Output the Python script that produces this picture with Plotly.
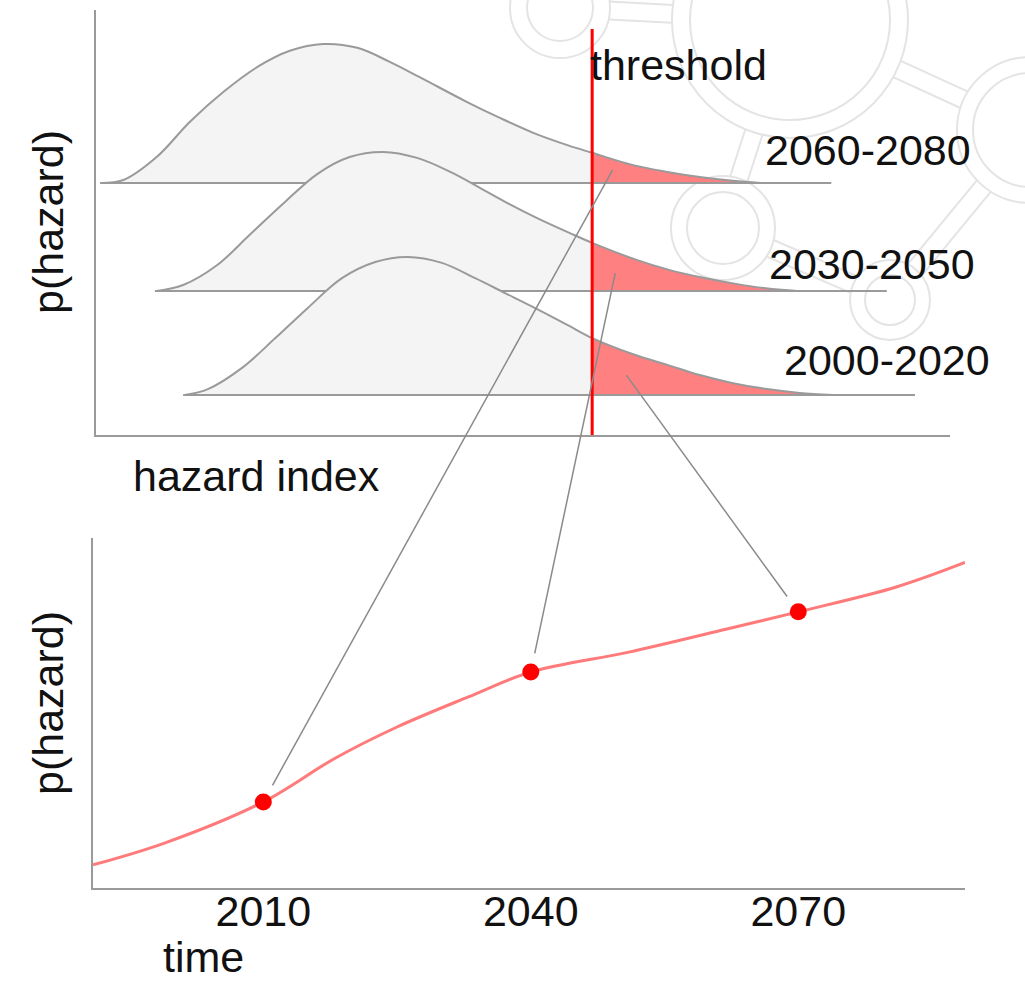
import math
import plotly.graph_objects as go

# ---------------- data ----------------
ridge_labels = ["2060-2080", "2030-2050", "2000-2020"]
ridge_offsets = [5.93, 3.39, 0.94]
ridge_x = [
    [0.05, 0.32, 0.71, 1.10, 1.49, 1.89, 2.27, 2.66, 3.06, 3.44, 3.79, 4.34,
     4.73, 5.12, 5.52, 5.81, 6.29, 6.69, 7.07, 7.46, 7.78],
    [0.71, 1.02, 1.42, 1.80, 2.19, 2.59, 2.97, 3.36, 3.76, 4.15, 4.50, 4.77, 5.16,
     5.55, 5.81, 6.33, 6.72, 7.11, 7.51, 7.89, 8.21],
    [1.04, 1.31, 1.71, 2.10, 2.48, 2.88, 3.27, 3.65, 4.05, 4.44, 4.79, 5.12, 5.52,
     5.81, 6.29, 6.69, 7.07, 7.46, 7.86, 8.24, 8.63],
]
ridge_h = [
    [0, 0.07, 0.61, 1.44, 2.14, 2.73, 3.11, 3.27, 3.18, 2.85, 2.49, 1.91,
     1.53, 1.18, 0.89, 0.71, 0.42, 0.26, 0.14, 0.05, 0],
    [0, 0.14, 0.61, 1.32, 2.05, 2.75, 3.15, 3.27, 3.13, 2.80, 2.42, 2.12, 1.72,
     1.36, 1.13, 0.73, 0.49, 0.31, 0.16, 0.05, 0],
    [0, 0.14, 0.64, 1.34, 2.05, 2.75, 3.13, 3.25, 3.11, 2.75, 2.40, 2.07, 1.65,
     1.34, 0.96, 0.71, 0.47, 0.28, 0.14, 0.05, 0],
]
baseline_start = [0.05, 0.69, 1.02]
baseline_end = [8.61, 9.26, 9.59]
threshold = 5.81
threshold_top = 9.55
label_x = [10.27, 10.32, 10.49]
label_dy = [0.78, 0.63, 0.82]

tail_anchor_x = [6.05, 6.08, 6.21]
tail_anchor_h = [0.31, 0.42, 0.47]
linked_year = [2010, 2040, 2070]

years_curve = [1990.9, 1999, 2010, 2018, 2025, 2033, 2040, 2051, 2062, 2070, 2081, 2088.7]
p_curve = [0.066, 0.129, 0.246, 0.37, 0.46, 0.546, 0.617, 0.674, 0.74, 0.789, 0.86, 0.93]
dot_years = [2010, 2040, 2070]
dot_p = [0.246, 0.617, 0.789]
time_ticks = [2010, 2040, 2070]
time_ticktext = ["2010", "2040", "2070"]

# ---------------- styling / layout ----------------
W, H = 1025, 983
FONT = "Liberation Sans, Arial, Helvetica, sans-serif"
FS = 43
GREY = "#9a9a9a"
FILL = "#f4f4f4"
TAIL = "#ff8080"
RED = "#ff0000"
TXT = "#111111"

X1_DOM = [96 / W, 950 / W]
Y1_DOM = [(H - 435) / H, (H - 10) / H]
X1_RANGE = [0, 10]
Y1_RANGE = [0, 10]
X2_DOM = [93 / W, 965 / W]
Y2_DOM = [(H - 888) / H, (H - 538) / H]
X2_RANGE = [1990.9, 2088.7]
Y2_RANGE = [0, 1]


def to_px(x, y, xdom, xr, ydom, yr):
    fx = xdom[0] + (x - xr[0]) / (xr[1] - xr[0]) * (xdom[1] - xdom[0])
    fy = ydom[0] + (y - yr[0]) / (yr[1] - yr[0]) * (ydom[1] - ydom[0])
    return fx * W, (1 - fy) * H


fig = go.Figure()

# ridges (back to front)
for i in range(3):
    off = ridge_offsets[i]
    xs = ridge_x[i]
    ys = [off + h for h in ridge_h[i]]
    fig.add_trace(go.Scatter(x=[xs[0], xs[-1]], y=[off, off], mode="lines",
                             line=dict(width=0, color="rgba(0,0,0,0)"),
                             hoverinfo="skip", xaxis="x", yaxis="y"))
    fig.add_trace(go.Scatter(x=xs, y=ys, mode="lines", fill="tonexty",
                             fillcolor=FILL, line=dict(width=0, color=FILL, shape="spline"),
                             hoverinfo="skip", xaxis="x", yaxis="y"))
    tx = [x for x in xs if x >= threshold]
    ty = [y for x, y in zip(xs, ys) if x >= threshold]
    fig.add_trace(go.Scatter(x=[tx[0], tx[-1]], y=[off, off], mode="lines",
                             line=dict(width=0, color="rgba(0,0,0,0)"),
                             hoverinfo="skip", xaxis="x", yaxis="y"))
    fig.add_trace(go.Scatter(x=tx, y=ty, mode="lines", fill="tonexty",
                             fillcolor=TAIL, line=dict(width=0, color=TAIL, shape="spline"),
                             hoverinfo="skip", xaxis="x", yaxis="y"))
    fig.add_trace(go.Scatter(x=xs, y=ys, mode="lines",
                             line=dict(width=2, color=GREY, shape="spline"),
                             hoverinfo="skip", xaxis="x", yaxis="y"))
    fig.add_trace(go.Scatter(x=[baseline_start[i], baseline_end[i]], y=[off, off],
                             mode="lines", line=dict(width=2, color=GREY),
                             hoverinfo="skip", xaxis="x", yaxis="y"))

# threshold line
fig.add_trace(go.Scatter(x=[threshold, threshold], y=[Y1_RANGE[0], threshold_top],
                         mode="lines", line=dict(width=3, color=RED),
                         hoverinfo="skip", xaxis="x", yaxis="y"))

# bottom curve + dots
fig.add_trace(go.Scatter(x=years_curve, y=p_curve, mode="lines",
                         line=dict(width=3, color="#ff7a7a", shape="spline"),
                         hoverinfo="skip", xaxis="x2", yaxis="y2"))
fig.add_trace(go.Scatter(x=dot_years, y=dot_p, mode="markers",
                         marker=dict(size=17, color=RED, line=dict(width=0)),
                         hoverinfo="skip", xaxis="x2", yaxis="y2"))

shapes = []
# connectors from tails to dots
for i in range(3):
    ax, ay = to_px(tail_anchor_x[i], ridge_offsets[i] + tail_anchor_h[i],
                   X1_DOM, X1_RANGE, Y1_DOM, Y1_RANGE)
    j = dot_years.index(linked_year[i])
    bx, by = to_px(dot_years[j], dot_p[j], X2_DOM, X2_RANGE, Y2_DOM, Y2_RANGE)
    d = math.hypot(ax - bx, ay - by)
    gap = 19
    bx2 = bx + (ax - bx) * gap / d
    by2 = by + (ay - by) * gap / d
    shapes.append(dict(type="line", xref="paper", yref="paper",
                       x0=ax / W, y0=1 - ay / H, x1=bx2 / W, y1=1 - by2 / H,
                       line=dict(color="#8a8a8a", width=1.5), layer="above"))

# faint background logo (watermark)
WM = "#e4e4e4"


def circ(cx, cy, r):
    return dict(type="circle", xref="paper", yref="paper",
                x0=(cx - r) / W, x1=(cx + r) / W, y0=1 - (cy + r) / H, y1=1 - (cy - r) / H,
                line=dict(color=WM, width=2), layer="below")


rings = [(790, 20, 100, 118), (560, 8, 33, 50), (723, 228, 36, 52),
         (890, 300, 25, 40), (1030, 130, 57, 73)]
for cx, cy, r1, r2 in rings:
    shapes.append(circ(cx, cy, r1))
    shapes.append(circ(cx, cy, r2))
links = [(0, 1), (0, 2), (0, 4), (2, 3), (4, 3)]
for a, b in links:
    cxa, cya, _, ra = rings[a]
    cxb, cyb, _, rb = rings[b]
    dx, dy = cxb - cxa, cyb - cya
    d = math.hypot(dx, dy)
    ux, uy = dx / d, dy / d
    nx, ny = -uy, ux
    for s in (-9, 9):
        sa = math.sqrt(max(ra ** 2 - s ** 2, 0))
        sb = math.sqrt(max(rb ** 2 - s ** 2, 0))
        x0 = cxa + ux * sa + nx * s
        y0 = cya + uy * sa + ny * s
        x1 = cxb - ux * sb + nx * s
        y1 = cyb - uy * sb + ny * s
        shapes.append(dict(type="line", xref="paper", yref="paper",
                           x0=x0 / W, y0=1 - y0 / H, x1=x1 / W, y1=1 - y1 / H,
                           line=dict(color=WM, width=2), layer="below"))

annotations = []
for i in range(3):
    lx, ly = to_px(label_x[i], ridge_offsets[i] + label_dy[i], X1_DOM, X1_RANGE, Y1_DOM, Y1_RANGE)
    annotations.append(dict(x=lx / W, y=1 - ly / H, xref="paper", yref="paper",
                            text=ridge_labels[i], showarrow=False, xanchor="right",
                            yanchor="middle", font=dict(family=FONT, size=FS, color=TXT)))
annotations.append(dict(x=threshold, y=8.7, xref="x", yref="y", text="threshold",
                        showarrow=False, xanchor="left", yanchor="middle", xshift=-4,
                        font=dict(family=FONT, size=FS, color=TXT)))
annotations.append(dict(x=131 / W, y=1 - 476 / H, xref="paper", yref="paper", text="hazard index",
                        showarrow=False, xanchor="left", yanchor="middle",
                        font=dict(family=FONT, size=FS, color=TXT)))
annotations.append(dict(x=203 / W, y=0, xref="paper", yref="paper", text="time",
                        showarrow=False, xanchor="center", yanchor="bottom", yshift=1,
                        borderpad=0,
                        font=dict(family=FONT, size=FS, color=TXT)))
for yc in (222, 703):
    annotations.append(dict(x=48 / W, y=1 - yc / H, xref="paper", yref="paper", text="p(hazard)",
                            showarrow=False, textangle=-90, xanchor="center", yanchor="middle",
                            font=dict(family=FONT, size=FS, color=TXT)))

axis_common = dict(showgrid=False, zeroline=False, showline=True, linecolor=GREY,
                   linewidth=2, ticks="", fixedrange=True)

fig.update_layout(
    width=W, height=H, autosize=False,
    margin=dict(l=0, r=0, t=0, b=0),
    paper_bgcolor="white", plot_bgcolor="rgba(0,0,0,0)",
    showlegend=False,
    font=dict(family=FONT, size=FS, color=TXT),
    xaxis=dict(domain=X1_DOM, range=X1_RANGE, showticklabels=False, anchor="y", **axis_common),
    yaxis=dict(domain=Y1_DOM, range=Y1_RANGE, showticklabels=False, anchor="x", **axis_common),
    xaxis2=dict(domain=X2_DOM, range=X2_RANGE, anchor="y2", tickvals=time_ticks,
                ticktext=time_ticktext, tickfont=dict(family=FONT, size=FS, color=TXT),
                ticklabelstandoff=-16, **axis_common),
    yaxis2=dict(domain=Y2_DOM, range=Y2_RANGE, showticklabels=False, anchor="x2", **axis_common),
    shapes=shapes,
    annotations=annotations,
)

fig.write_html(
    "out.html",
    config={"displayModeBar": False, "staticPlot": True},
    post_script="document.body.style.margin='0';document.body.style.padding='0';"
                "document.body.style.overflow='hidden';",
)
